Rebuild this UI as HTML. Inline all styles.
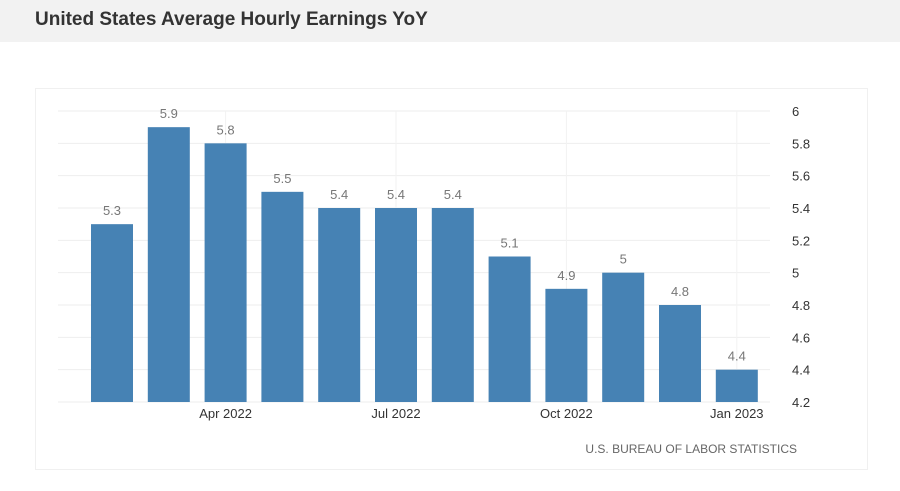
<!DOCTYPE html>
<html><head><meta charset="utf-8"><style>
body{margin:0;width:900px;height:491px;background:#fff;font-family:"Liberation Sans",sans-serif;overflow:hidden;position:relative}
#hdr{position:absolute;left:0;top:0;width:900px;height:42px;background:#f2f2f2}
#hdr h1{margin:0;position:absolute;left:35px;top:9px;font-size:19px;font-weight:bold;color:#333}
#panel{position:absolute;left:35px;top:88px;width:833px;height:382px;border:1px solid #f0f0f0;box-sizing:border-box}
svg{position:absolute;left:0;top:0}
</style></head><body>
<div id="hdr"><h1>United States Average Hourly Earnings YoY</h1></div>
<div id="panel"></div>
<svg id="chart" width="900" height="491"></svg>
<script>
const categories=["Feb 2022","Mar 2022","Apr 2022","May 2022","Jun 2022","Jul 2022","Aug 2022","Sep 2022","Oct 2022","Nov 2022","Dec 2022","Jan 2023"];
const values=[5.3,5.9,5.8,5.5,5.4,5.4,5.4,5.1,4.9,5.0,4.8,4.4];
const valueLabels=["5.3","5.9","5.8","5.5","5.4","5.4","5.4","5.1","4.9","5","4.8","4.4"];
const yTicks=[4.2,4.4,4.6,4.8,5,5.2,5.4,5.6,5.8,6];
const xTickLabels=[{i:2,t:"Apr 2022"},{i:5,t:"Jul 2022"},{i:8,t:"Oct 2022"},{i:11,t:"Jan 2023"}];
const NS="http://www.w3.org/2000/svg",svg=document.getElementById('chart');
const y=v=>402-(v-4.2)/1.8*291;
const x=i=>112+i*56.8;
function mk(t,a,txt){const e=document.createElementNS(NS,t);for(const k in a)e.setAttribute(k,a[k]);if(txt!=null)e.textContent=txt;svg.appendChild(e);return e;}
yTicks.forEach(v=>{
 const l=mk('line',{x1:58,x2:770,y1:y(v),y2:y(v),stroke:'#eeeeee','stroke-width':1});
 
 
 const t=mk('text',{x:792,y:y(v)+5,'font-size':13,fill:'#333'},String(v));
 
 
});
xTickLabels.forEach(d=>{
 const g=mk('line',{x1:x(d.i),x2:x(d.i),y1:111,y2:402,stroke:'#f2f2f2'});
 
 
 const t=mk('text',{x:x(d.i),y:418,'font-size':13,fill:'#333','text-anchor':'middle'},d.t);
 
 
});
values.forEach((v,i)=>{
 const r=mk('rect',{x:x(i)-21,y:y(v),width:42,height:402-y(v),fill:'#4682b4'});
 
 
 const t=mk('text',{x:x(i),y:y(v)-9,'font-size':13,fill:'#777','text-anchor':'middle'},valueLabels[i]);
 
 
});
const s=mk('text',{x:797,y:453,'font-size':12,fill:'#666','text-anchor':'end'},"U.S. BUREAU OF LABOR STATISTICS");


</script>
</body></html>
